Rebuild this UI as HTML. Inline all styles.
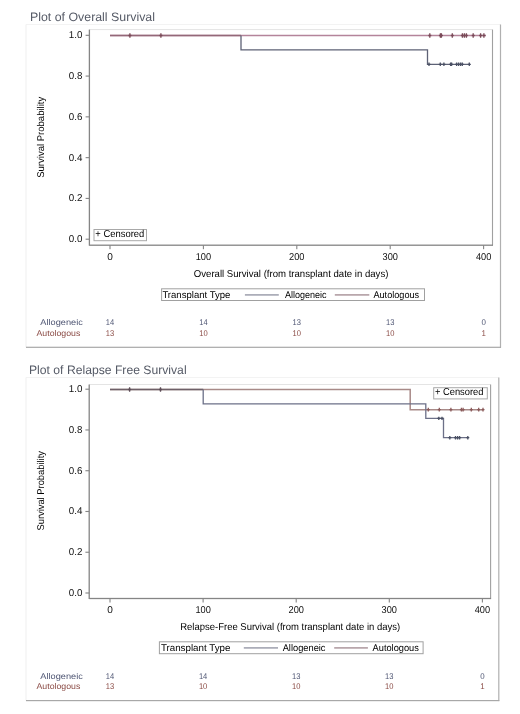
<!DOCTYPE html>
<html><head><meta charset="utf-8"><style>
html,body{margin:0;padding:0;background:#fff;}
svg{display:block;will-change:transform;}
text{font-family:"Liberation Sans",sans-serif;text-rendering:geometricPrecision;}
</style></head><body>
<svg width="520" height="714" viewBox="0 0 520 714">
<rect width="520" height="714" fill="#fff"/>
<rect x="26" y="24.0" width="474.5" height="1" fill="#f3f3f3"/>
<rect x="25.5" y="24.5" width="1" height="322.8" fill="#f0f0f0"/>
<rect x="499.9" y="24.5" width="1.2" height="323.3" fill="#b0b0b0"/>
<rect x="26" y="346.7" width="475.0" height="1.2" fill="#a8a8a8"/>
<text x="30.0" y="20.7" font-size="12.2" fill="#555a66" textLength="125.0" lengthAdjust="spacingAndGlyphs">Plot of Overall Survival</text>
<rect x="89.4" y="29.1" width="403.1" height="1" fill="#e4e4e4"/>
<rect x="491.95" y="29.6" width="1.1" height="215.6" fill="#a0a0a0"/>
<rect x="88.75" y="29.6" width="1.3" height="216.1" fill="#858585"/>
<rect x="89.4" y="244.54999999999998" width="403.6" height="1.3" fill="#858585"/>
<rect x="85.60000000000001" y="238.64999999999998" width="3.799999999999997" height="1.1" fill="#858585"/>
<text x="82.4" y="242.1" font-size="10" fill="#111" text-anchor="end" textLength="13.6" lengthAdjust="spacingAndGlyphs">0.0</text>
<rect x="85.60000000000001" y="197.86999999999998" width="3.799999999999997" height="1.1" fill="#858585"/>
<text x="82.4" y="201.32" font-size="10" fill="#111" text-anchor="end" textLength="13.6" lengthAdjust="spacingAndGlyphs">0.2</text>
<rect x="85.60000000000001" y="157.08999999999997" width="3.799999999999997" height="1.1" fill="#858585"/>
<text x="82.4" y="160.54" font-size="10" fill="#111" text-anchor="end" textLength="13.6" lengthAdjust="spacingAndGlyphs">0.4</text>
<rect x="85.60000000000001" y="116.30999999999999" width="3.799999999999997" height="1.1" fill="#858585"/>
<text x="82.4" y="119.75999999999999" font-size="10" fill="#111" text-anchor="end" textLength="13.6" lengthAdjust="spacingAndGlyphs">0.6</text>
<rect x="85.60000000000001" y="75.52999999999999" width="3.799999999999997" height="1.1" fill="#858585"/>
<text x="82.4" y="78.97999999999999" font-size="10" fill="#111" text-anchor="end" textLength="13.6" lengthAdjust="spacingAndGlyphs">0.8</text>
<rect x="85.60000000000001" y="34.750000000000014" width="3.799999999999997" height="1.1" fill="#858585"/>
<text x="82.4" y="38.20000000000001" font-size="10" fill="#111" text-anchor="end" textLength="13.6" lengthAdjust="spacingAndGlyphs">1.0</text>
<rect x="109.45" y="245.2" width="1.1" height="4.0" fill="#858585"/>
<text x="110.0" y="259.9" font-size="10" fill="#111" text-anchor="middle" textLength="5.6" lengthAdjust="spacingAndGlyphs">0</text>
<rect x="202.85" y="245.2" width="1.1" height="4.0" fill="#858585"/>
<text x="203.4" y="259.9" font-size="10" fill="#111" text-anchor="middle" textLength="15.4" lengthAdjust="spacingAndGlyphs">100</text>
<rect x="296.25" y="245.2" width="1.1" height="4.0" fill="#858585"/>
<text x="296.8" y="259.9" font-size="10" fill="#111" text-anchor="middle" textLength="15.4" lengthAdjust="spacingAndGlyphs">200</text>
<rect x="389.65" y="245.2" width="1.1" height="4.0" fill="#858585"/>
<text x="390.2" y="259.9" font-size="10" fill="#111" text-anchor="middle" textLength="15.4" lengthAdjust="spacingAndGlyphs">300</text>
<rect x="483.05" y="245.2" width="1.1" height="4.0" fill="#858585"/>
<text x="483.6" y="259.9" font-size="10" fill="#111" text-anchor="middle" textLength="15.4" lengthAdjust="spacingAndGlyphs">400</text>
<text x="193.8" y="276.8" font-size="10" fill="#000" textLength="194.6" lengthAdjust="spacingAndGlyphs">Overall Survival (from transplant date in days)</text>
<text transform="translate(43.8,137.3) rotate(-90)" font-size="9.8" fill="#000" text-anchor="middle" textLength="81.0" lengthAdjust="spacingAndGlyphs">Survival Probability</text>
<rect x="94.0" y="229.5" width="52.5" height="11.199999999999989" fill="#fff" stroke="#a8a8a8" stroke-width="1"/>
<text x="95.3" y="236.6" font-size="10" fill="#000" textLength="49.0" lengthAdjust="spacingAndGlyphs">+ Censored</text>
<path d="M110.00,35.50 L486.00,35.50" fill="none" stroke="#b4849a" stroke-width="1.6"/>
<path d="M110.00,35.50 L241.00,35.50" fill="none" stroke="#946878" stroke-width="1.6"/>
<path d="M241.00,35.50 L241.00,49.90 L427.50,49.90 L427.50,64.30 L470.00,64.30" fill="none" stroke="#5e6276" stroke-width="1.3"/>
<path d="M128.40,35.50 H131.40 M129.90,33.30 V37.70" stroke="#7a4a58" stroke-width="1.3" fill="none"/>
<path d="M159.40,35.50 H162.40 M160.90,33.30 V37.70" stroke="#7a4a58" stroke-width="1.3" fill="none"/>
<path d="M428.30,35.50 H431.30 M429.80,33.30 V37.70" stroke="#7a4a58" stroke-width="1.3" fill="none"/>
<path d="M438.90,35.50 H441.90 M440.40,33.30 V37.70" stroke="#7a4a58" stroke-width="1.3" fill="none"/>
<path d="M439.90,35.50 H442.90 M441.40,33.30 V37.70" stroke="#7a4a58" stroke-width="1.3" fill="none"/>
<path d="M450.80,35.50 H453.80 M452.30,33.30 V37.70" stroke="#7a4a58" stroke-width="1.3" fill="none"/>
<path d="M460.90,35.50 H463.90 M462.40,33.30 V37.70" stroke="#7a4a58" stroke-width="1.3" fill="none"/>
<path d="M462.90,35.50 H465.90 M464.40,33.30 V37.70" stroke="#7a4a58" stroke-width="1.3" fill="none"/>
<path d="M464.90,35.50 H467.90 M466.40,33.30 V37.70" stroke="#7a4a58" stroke-width="1.3" fill="none"/>
<path d="M471.70,35.50 H474.70 M473.20,33.30 V37.70" stroke="#7a4a58" stroke-width="1.3" fill="none"/>
<path d="M479.10,35.50 H482.10 M480.60,33.30 V37.70" stroke="#7a4a58" stroke-width="1.3" fill="none"/>
<path d="M482.40,35.50 H485.40 M483.90,33.30 V37.70" stroke="#7a4a58" stroke-width="1.3" fill="none"/>
<path d="M427.50,64.30 H430.50 M429.00,62.60 V66.00" stroke="#4a5064" stroke-width="1.3" fill="none"/>
<path d="M438.80,64.30 H441.80 M440.30,62.60 V66.00" stroke="#4a5064" stroke-width="1.3" fill="none"/>
<path d="M442.40,64.30 H445.40 M443.90,62.60 V66.00" stroke="#4a5064" stroke-width="1.3" fill="none"/>
<path d="M449.10,64.30 H452.10 M450.60,62.60 V66.00" stroke="#4a5064" stroke-width="1.3" fill="none"/>
<path d="M450.10,64.30 H453.10 M451.60,62.60 V66.00" stroke="#4a5064" stroke-width="1.3" fill="none"/>
<path d="M455.10,64.30 H458.10 M456.60,62.60 V66.00" stroke="#4a5064" stroke-width="1.3" fill="none"/>
<path d="M457.10,64.30 H460.10 M458.60,62.60 V66.00" stroke="#4a5064" stroke-width="1.3" fill="none"/>
<path d="M459.10,64.30 H462.10 M460.60,62.60 V66.00" stroke="#4a5064" stroke-width="1.3" fill="none"/>
<path d="M460.80,64.30 H463.80 M462.30,62.60 V66.00" stroke="#4a5064" stroke-width="1.3" fill="none"/>
<path d="M467.80,64.30 H470.80 M469.30,62.60 V66.00" stroke="#4a5064" stroke-width="1.3" fill="none"/>
<rect x="161.6" y="288.8" width="262.9" height="11.699999999999989" fill="none" stroke="#a0a0a0" stroke-width="1"/>
<text x="162.4" y="297.6" font-size="9.7" fill="#000" textLength="68.0" lengthAdjust="spacingAndGlyphs">Transplant Type</text>
<text x="284.9" y="297.6" font-size="9.7" fill="#000" textLength="41.6" lengthAdjust="spacingAndGlyphs">Allogeneic</text>
<text x="373.4" y="297.6" font-size="9.7" fill="#000" textLength="45.8" lengthAdjust="spacingAndGlyphs">Autologous</text>
<rect x="244.9" y="294.09999999999997" width="33.900000000000006" height="1.6" fill="#a4a6b2"/>
<rect x="334.8" y="294.09999999999997" width="34.5" height="1.6" fill="#b29ea4"/>
<text x="82.8" y="325.2" font-size="8.3" fill="#4d5472" text-anchor="end" textLength="42.5" lengthAdjust="spacingAndGlyphs">Allogeneic</text>
<text x="80.3" y="335.5" font-size="8.3" fill="#8a4a44" text-anchor="end" textLength="43.8" lengthAdjust="spacingAndGlyphs">Autologous</text>
<text x="110.0" y="325.2" font-size="8.3" fill="#4d5472" text-anchor="middle" textLength="8.4" lengthAdjust="spacingAndGlyphs">14</text>
<text x="110.0" y="335.5" font-size="8.3" fill="#8a4a44" text-anchor="middle" textLength="8.4" lengthAdjust="spacingAndGlyphs">13</text>
<text x="203.4" y="325.2" font-size="8.3" fill="#4d5472" text-anchor="middle" textLength="8.4" lengthAdjust="spacingAndGlyphs">14</text>
<text x="203.4" y="335.5" font-size="8.3" fill="#8a4a44" text-anchor="middle" textLength="8.4" lengthAdjust="spacingAndGlyphs">10</text>
<text x="296.8" y="325.2" font-size="8.3" fill="#4d5472" text-anchor="middle" textLength="8.4" lengthAdjust="spacingAndGlyphs">13</text>
<text x="296.8" y="335.5" font-size="8.3" fill="#8a4a44" text-anchor="middle" textLength="8.4" lengthAdjust="spacingAndGlyphs">10</text>
<text x="390.2" y="325.2" font-size="8.3" fill="#4d5472" text-anchor="middle" textLength="8.4" lengthAdjust="spacingAndGlyphs">13</text>
<text x="390.2" y="335.5" font-size="8.3" fill="#8a4a44" text-anchor="middle" textLength="8.4" lengthAdjust="spacingAndGlyphs">10</text>
<text x="483.6" y="325.2" font-size="8.3" fill="#4d5472" text-anchor="middle" textLength="4.4" lengthAdjust="spacingAndGlyphs">0</text>
<text x="483.6" y="335.5" font-size="8.3" fill="#8a4a44" text-anchor="middle" textLength="4.4" lengthAdjust="spacingAndGlyphs">1</text>
<rect x="26" y="377.0" width="472.8" height="1" fill="#f3f3f3"/>
<rect x="25.5" y="377.5" width="1" height="323.1" fill="#f0f0f0"/>
<rect x="498.2" y="377.5" width="1.2" height="323.6" fill="#b0b0b0"/>
<rect x="26" y="700.0" width="473.3" height="1.2" fill="#a8a8a8"/>
<text x="29.0" y="373.5" font-size="12.2" fill="#555a66" textLength="157.6" lengthAdjust="spacingAndGlyphs">Plot of Relapse Free Survival</text>
<rect x="89.2" y="384.0" width="401.40000000000003" height="1" fill="#e4e4e4"/>
<rect x="490.05" y="384.5" width="1.1" height="214.0" fill="#a0a0a0"/>
<rect x="88.55" y="384.5" width="1.3" height="214.5" fill="#858585"/>
<rect x="89.2" y="597.85" width="401.90000000000003" height="1.3" fill="#858585"/>
<rect x="85.4" y="592.45" width="3.799999999999997" height="1.1" fill="#858585"/>
<text x="82.4" y="595.9" font-size="10" fill="#111" text-anchor="end" textLength="13.6" lengthAdjust="spacingAndGlyphs">0.0</text>
<rect x="85.4" y="551.69" width="3.799999999999997" height="1.1" fill="#858585"/>
<text x="82.4" y="555.14" font-size="10" fill="#111" text-anchor="end" textLength="13.6" lengthAdjust="spacingAndGlyphs">0.2</text>
<rect x="85.4" y="510.93" width="3.799999999999997" height="1.1" fill="#858585"/>
<text x="82.4" y="514.38" font-size="10" fill="#111" text-anchor="end" textLength="13.6" lengthAdjust="spacingAndGlyphs">0.4</text>
<rect x="85.4" y="470.16999999999996" width="3.799999999999997" height="1.1" fill="#858585"/>
<text x="82.4" y="473.61999999999995" font-size="10" fill="#111" text-anchor="end" textLength="13.6" lengthAdjust="spacingAndGlyphs">0.6</text>
<rect x="85.4" y="429.40999999999997" width="3.799999999999997" height="1.1" fill="#858585"/>
<text x="82.4" y="432.85999999999996" font-size="10" fill="#111" text-anchor="end" textLength="13.6" lengthAdjust="spacingAndGlyphs">0.8</text>
<rect x="85.4" y="388.65" width="3.799999999999997" height="1.1" fill="#858585"/>
<text x="82.4" y="392.09999999999997" font-size="10" fill="#111" text-anchor="end" textLength="13.6" lengthAdjust="spacingAndGlyphs">1.0</text>
<rect x="109.45" y="598.5" width="1.1" height="4.0" fill="#858585"/>
<text x="110.0" y="613.3" font-size="10" fill="#111" text-anchor="middle" textLength="5.6" lengthAdjust="spacingAndGlyphs">0</text>
<rect x="202.54999999999998" y="598.5" width="1.1" height="4.0" fill="#858585"/>
<text x="203.1" y="613.3" font-size="10" fill="#111" text-anchor="middle" textLength="15.4" lengthAdjust="spacingAndGlyphs">100</text>
<rect x="295.65" y="598.5" width="1.1" height="4.0" fill="#858585"/>
<text x="296.2" y="613.3" font-size="10" fill="#111" text-anchor="middle" textLength="15.4" lengthAdjust="spacingAndGlyphs">200</text>
<rect x="388.75" y="598.5" width="1.1" height="4.0" fill="#858585"/>
<text x="389.3" y="613.3" font-size="10" fill="#111" text-anchor="middle" textLength="15.4" lengthAdjust="spacingAndGlyphs">300</text>
<rect x="481.84999999999997" y="598.5" width="1.1" height="4.0" fill="#858585"/>
<text x="482.4" y="613.3" font-size="10" fill="#111" text-anchor="middle" textLength="15.4" lengthAdjust="spacingAndGlyphs">400</text>
<text x="180.2" y="629.6" font-size="10" fill="#000" textLength="220.0" lengthAdjust="spacingAndGlyphs">Relapse-Free Survival (from transplant date in days)</text>
<text transform="translate(43.5,490.8) rotate(-90)" font-size="9.8" fill="#000" text-anchor="middle" textLength="79.5" lengthAdjust="spacingAndGlyphs">Survival Probability</text>
<rect x="433.7" y="387.7" width="53.60000000000002" height="11.199999999999989" fill="#fff" stroke="#a8a8a8" stroke-width="1"/>
<text x="434.9" y="395.4" font-size="10" fill="#000" textLength="48.6" lengthAdjust="spacingAndGlyphs">+ Censored</text>
<path d="M110.00,389.50 L410.20,389.50 L410.20,409.70 L483.30,409.70" fill="none" stroke="#a88a88" stroke-width="1.5"/>
<path d="M110.00,389.50 L203.20,389.50" fill="none" stroke="#6e6068" stroke-width="1.5"/>
<path d="M203.20,389.50 L203.20,403.90 L425.80,403.90 L425.80,418.40 L443.50,418.40 L443.50,437.70 L468.60,437.70" fill="none" stroke="#6c7088" stroke-width="1.3"/>
<path d="M128.10,389.50 H131.10 M129.60,387.30 V391.70" stroke="#5e4e58" stroke-width="1.3" fill="none"/>
<path d="M159.00,389.50 H162.00 M160.50,387.30 V391.70" stroke="#5e4e58" stroke-width="1.3" fill="none"/>
<path d="M426.80,409.70 H429.80 M428.30,407.80 V411.60" stroke="#8a5a5a" stroke-width="1.3" fill="none"/>
<path d="M437.80,409.70 H440.80 M439.30,407.80 V411.60" stroke="#8a5a5a" stroke-width="1.3" fill="none"/>
<path d="M449.40,409.70 H452.40 M450.90,407.80 V411.60" stroke="#8a5a5a" stroke-width="1.3" fill="none"/>
<path d="M459.90,409.70 H462.90 M461.40,407.80 V411.60" stroke="#8a5a5a" stroke-width="1.3" fill="none"/>
<path d="M461.60,409.70 H464.60 M463.10,407.80 V411.60" stroke="#8a5a5a" stroke-width="1.3" fill="none"/>
<path d="M469.80,409.70 H472.80 M471.30,407.80 V411.60" stroke="#8a5a5a" stroke-width="1.3" fill="none"/>
<path d="M477.20,409.70 H480.20 M478.70,407.80 V411.60" stroke="#8a5a5a" stroke-width="1.3" fill="none"/>
<path d="M481.50,409.70 H484.50 M483.00,407.80 V411.60" stroke="#8a5a5a" stroke-width="1.3" fill="none"/>
<path d="M437.30,418.40 H440.30 M438.80,416.80 V420.00" stroke="#4a5064" stroke-width="1.3" fill="none"/>
<path d="M440.50,418.40 H443.50 M442.00,416.80 V420.00" stroke="#4a5064" stroke-width="1.3" fill="none"/>
<path d="M448.30,437.70 H451.30 M449.80,436.00 V439.40" stroke="#4a5064" stroke-width="1.3" fill="none"/>
<path d="M454.00,437.70 H457.00 M455.50,436.00 V439.40" stroke="#4a5064" stroke-width="1.3" fill="none"/>
<path d="M456.10,437.70 H459.10 M457.60,436.00 V439.40" stroke="#4a5064" stroke-width="1.3" fill="none"/>
<path d="M458.10,437.70 H461.10 M459.60,436.00 V439.40" stroke="#4a5064" stroke-width="1.3" fill="none"/>
<path d="M466.30,437.70 H469.30 M467.80,436.00 V439.40" stroke="#4a5064" stroke-width="1.3" fill="none"/>
<rect x="159.4" y="641.8" width="263.70000000000005" height="11.900000000000091" fill="none" stroke="#a0a0a0" stroke-width="1"/>
<text x="160.9" y="650.9" font-size="9.7" fill="#000" textLength="69.5" lengthAdjust="spacingAndGlyphs">Transplant Type</text>
<text x="282.7" y="650.9" font-size="9.7" fill="#000" textLength="42.8" lengthAdjust="spacingAndGlyphs">Allogeneic</text>
<text x="372.6" y="650.9" font-size="9.7" fill="#000" textLength="46.3" lengthAdjust="spacingAndGlyphs">Autologous</text>
<rect x="243.8" y="647.1" width="34.19999999999999" height="1.6" fill="#a4a6b2"/>
<rect x="334.2" y="647.1" width="33.69999999999999" height="1.6" fill="#b29ea4"/>
<text x="82.8" y="678.7" font-size="8.3" fill="#4d5472" text-anchor="end" textLength="42.5" lengthAdjust="spacingAndGlyphs">Allogeneic</text>
<text x="80.3" y="689.0" font-size="8.3" fill="#8a4a44" text-anchor="end" textLength="43.8" lengthAdjust="spacingAndGlyphs">Autologous</text>
<text x="110.0" y="678.7" font-size="8.3" fill="#4d5472" text-anchor="middle" textLength="8.4" lengthAdjust="spacingAndGlyphs">14</text>
<text x="110.0" y="689.0" font-size="8.3" fill="#8a4a44" text-anchor="middle" textLength="8.4" lengthAdjust="spacingAndGlyphs">13</text>
<text x="203.1" y="678.7" font-size="8.3" fill="#4d5472" text-anchor="middle" textLength="8.4" lengthAdjust="spacingAndGlyphs">14</text>
<text x="203.1" y="689.0" font-size="8.3" fill="#8a4a44" text-anchor="middle" textLength="8.4" lengthAdjust="spacingAndGlyphs">10</text>
<text x="296.2" y="678.7" font-size="8.3" fill="#4d5472" text-anchor="middle" textLength="8.4" lengthAdjust="spacingAndGlyphs">13</text>
<text x="296.2" y="689.0" font-size="8.3" fill="#8a4a44" text-anchor="middle" textLength="8.4" lengthAdjust="spacingAndGlyphs">10</text>
<text x="389.3" y="678.7" font-size="8.3" fill="#4d5472" text-anchor="middle" textLength="8.4" lengthAdjust="spacingAndGlyphs">13</text>
<text x="389.3" y="689.0" font-size="8.3" fill="#8a4a44" text-anchor="middle" textLength="8.4" lengthAdjust="spacingAndGlyphs">10</text>
<text x="482.4" y="678.7" font-size="8.3" fill="#4d5472" text-anchor="middle" textLength="4.4" lengthAdjust="spacingAndGlyphs">0</text>
<text x="482.4" y="689.0" font-size="8.3" fill="#8a4a44" text-anchor="middle" textLength="4.4" lengthAdjust="spacingAndGlyphs">1</text>
</svg>
</body></html>
